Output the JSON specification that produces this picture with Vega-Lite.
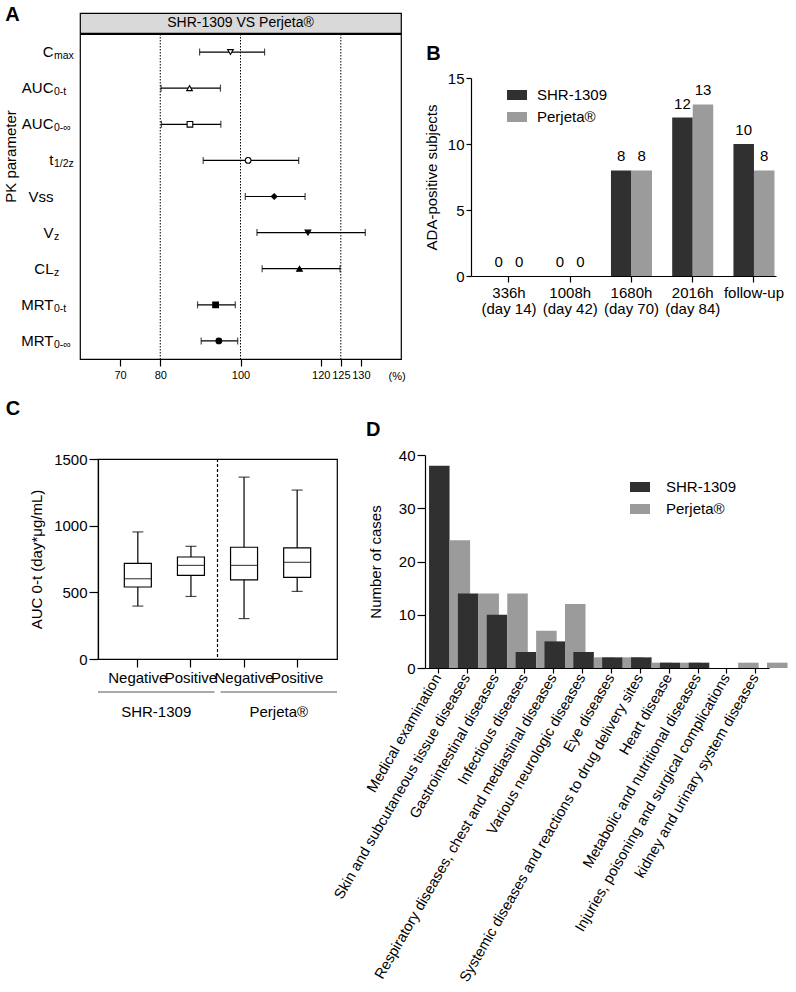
{
  "$schema": "https://vega.github.io/schema/vega-lite/v6.json",
  "padding": {"left": 0, "top": 5, "right": 0, "bottom": 0},
  "config": {
    "font": "Liberation Sans",
    "view": {"stroke": null},
    "axis": {"grid": false, "domainColor": "#000", "tickColor": "#000", "labelColor": "#000", "titleColor": "#000", "titleFontWeight": "normal", "labelFontSize": 15, "titleFontSize": 15, "domainWidth": 1.2, "tickWidth": 1.2},
    "title": {"fontSize": 20, "fontWeight": "bold", "anchor": "start", "frame": "bounds", "color": "#000"},
    "legend": {"labelFontSize": 15, "labelColor": "#000", "padding": 0}
  },
  "datasets": {
    "header": [{"label": "SHR-1309 VS Perjeta®"}],
    "pk": [
      {"param": "C|max", "sub": "max", "lo": 89.8, "est": 97.5, "hi": 106},
      {"param": "AUC|0-t", "sub": "0-t", "lo": 80.2, "est": 87.3, "hi": 95},
      {"param": "AUC|0-∞", "sub": "0-∞", "lo": 80.3, "est": 87.4, "hi": 95.1},
      {"param": "t|1/2z", "sub": "1/2z", "lo": 90.7, "est": 101.9, "hi": 114.5},
      {"param": "Vss|", "sub": "", "lo": 101.2, "est": 108.4, "hi": 116.1},
      {"param": "V|z", "sub": "z", "lo": 104.1, "est": 116.8, "hi": 131.1},
      {"param": "CL|z", "sub": "z", "lo": 105.4, "est": 114.7, "hi": 124.8},
      {"param": "MRT|0-t", "sub": "0-t", "lo": 89.3, "est": 93.8, "hi": 98.7},
      {"param": "MRT|0-∞", "sub": "0-∞", "lo": 90.2, "est": 94.6, "hi": 99.3}
    ],
    "refs": [{"ref": 80}, {"ref": 100}, {"ref": 125}],
    "ada": [
      {"time": "336h|(day 14)", "group": "SHR-1309", "n": 0},
      {"time": "336h|(day 14)", "group": "Perjeta®", "n": 0},
      {"time": "1008h|(day 42)", "group": "SHR-1309", "n": 0},
      {"time": "1008h|(day 42)", "group": "Perjeta®", "n": 0},
      {"time": "1680h|(day 70)", "group": "SHR-1309", "n": 8},
      {"time": "1680h|(day 70)", "group": "Perjeta®", "n": 8},
      {"time": "2016h|(day 84)", "group": "SHR-1309", "n": 12},
      {"time": "2016h|(day 84)", "group": "Perjeta®", "n": 13},
      {"time": "follow-up", "group": "SHR-1309", "n": 10},
      {"time": "follow-up", "group": "Perjeta®", "n": 8}
    ],
    "auc": [
      {"cat": "SHR-1309 Negative", "min": 397, "q1": 540, "median": 602, "q3": 717, "max": 953},
      {"cat": "SHR-1309 Positive", "min": 469, "q1": 627, "median": 702, "q3": 765, "max": 845},
      {"cat": "Perjeta® Negative", "min": 303, "q1": 594, "median": 702, "q3": 838, "max": 1364},
      {"cat": "Perjeta® Positive", "min": 507, "q1": 612, "median": 725, "q3": 833, "max": 1267}
    ],
    "groups": [{"group": "SHR-1309"}, {"group": "Perjeta®"}],
    "split": [{"cat": "Perjeta® Negative"}],
    "ae": [
      {"category": "Medical examination", "group": "SHR-1309", "n": 38},
      {"category": "Medical examination", "group": "Perjeta®", "n": 24},
      {"category": "Skin and subcutaneous tissue diseases", "group": "SHR-1309", "n": 14},
      {"category": "Skin and subcutaneous tissue diseases", "group": "Perjeta®", "n": 14},
      {"category": "Gastrointestinal diseases", "group": "SHR-1309", "n": 10},
      {"category": "Gastrointestinal diseases", "group": "Perjeta®", "n": 14},
      {"category": "Infectious diseases", "group": "SHR-1309", "n": 3},
      {"category": "Infectious diseases", "group": "Perjeta®", "n": 7},
      {"category": "Respiratory diseases, chest and mediastinal diseases", "group": "SHR-1309", "n": 5},
      {"category": "Respiratory diseases, chest and mediastinal diseases", "group": "Perjeta®", "n": 12},
      {"category": "Various neurologic diseases", "group": "SHR-1309", "n": 3},
      {"category": "Various neurologic diseases", "group": "Perjeta®", "n": 2},
      {"category": "Eye diseases", "group": "SHR-1309", "n": 2},
      {"category": "Eye diseases", "group": "Perjeta®", "n": 2},
      {"category": "Systemic diseases and reactions to drug delivery sites", "group": "SHR-1309", "n": 2},
      {"category": "Systemic diseases and reactions to drug delivery sites", "group": "Perjeta®", "n": 1},
      {"category": "Heart disease", "group": "SHR-1309", "n": 1},
      {"category": "Heart disease", "group": "Perjeta®", "n": 1},
      {"category": "Metabolic and nutritional diseases", "group": "SHR-1309", "n": 1},
      {"category": "Metabolic and nutritional diseases", "group": "Perjeta®", "n": 0},
      {"category": "Injuries, poisoning and surgical complications", "group": "SHR-1309", "n": 0},
      {"category": "Injuries, poisoning and surgical complications", "group": "Perjeta®", "n": 1},
      {"category": "kidney and urinary system diseases", "group": "SHR-1309", "n": 0},
      {"category": "kidney and urinary system diseases", "group": "Perjeta®", "n": 1}
    ]
  },
  "spacing": 11,
  "resolve": {"scale": {"color": "independent"}, "legend": {"color": "independent"}},
  "vconcat": [
    {
      "spacing": 18,
      "resolve": {"scale": {"color": "independent"}, "legend": {"color": "independent"}},
      "hconcat": [
        {
          "spacing": 2,
          "hconcat": [
            {"width": 1, "height": 1, "data": {"values": []}, "mark": "point", "encoding": {}},
            {
              "title": {"text": "A", "offset": -13, "dx": 2},
              "spacing": -2,
              "vconcat": [
                {
                  "width": 321,
                  "height": 20,
                  "view": {"fill": "#d9d9d9", "stroke": "#000", "strokeWidth": 1.2},
                  "data": {"name": "header"},
                  "mark": {"type": "text", "fontSize": 14, "color": "#000"},
                  "encoding": {"text": {"field": "label"}}
                },
                {
                  "width": 321,
                  "height": 325,
                  "view": {"stroke": "#000", "strokeWidth": 1.2},
                  "layer": [
                    {
                      "data": {"name": "refs"},
                      "mark": {"type": "rule", "color": "#000", "strokeWidth": 1, "strokeDash": [1.5, 1.5]},
                      "encoding": {
                        "x": {"field": "ref", "type": "quantitative", "scale": {"domain": [60, 140]},
                          "axis": {"values": [70, 80, 100, 120, 125, 130], "title": "(%)", "titleX": 308, "titleY": 17, "titleAlign": "left", "titleBaseline": "middle", "titleFontSize": 11, "labelFontSize": 11, "tickSize": 7, "labelPadding": 3, "labelOverlap": false, "labelFlush": false}}
                      }
                    },
                    {
                      "data": {"name": "pk"},
                      "mark": {"type": "rule", "color": "#000", "strokeWidth": 1.2},
                      "encoding": {
                        "y": {"field": "param", "type": "nominal", "sort": null, "scale": {"paddingInner": 0, "paddingOuter": 0},
                          "axis": {"title": "PK parameter", "titleY": 122, "titlePadding": 2, "domain": false, "ticks": false, "tickSize": 0, "labelPadding": 27, "labelFontSize": 15, "labelExpr": "split(datum.label, '|')[0]"}},
                        "x": {"field": "lo", "type": "quantitative"},
                        "x2": {"field": "hi"}
                      }
                    },
                    {
                      "data": {"name": "pk"},
                      "mark": {"type": "tick", "color": "#000", "thickness": 1.2, "size": 7},
                      "encoding": {"y": {"field": "param", "type": "nominal", "sort": null}, "x": {"field": "lo", "type": "quantitative"}}
                    },
                    {
                      "data": {"name": "pk"},
                      "mark": {"type": "tick", "color": "#000", "thickness": 1.2, "size": 7},
                      "encoding": {"y": {"field": "param", "type": "nominal", "sort": null}, "x": {"field": "hi", "type": "quantitative"}}
                    },
                    {
                      "data": {"name": "pk"},
                      "mark": {"type": "point", "stroke": "#000", "strokeWidth": 1.1, "size": 32, "opacity": 1},
                      "encoding": {
                        "y": {"field": "param", "type": "nominal", "sort": null},
                        "x": {"field": "est", "type": "quantitative"},
                        "shape": {"field": "param", "type": "nominal", "legend": null,
                          "scale": {"domain": ["C|max", "AUC|0-t", "AUC|0-∞", "t|1/2z", "Vss|", "V|z", "CL|z", "MRT|0-t", "MRT|0-∞"],
                            "range": ["triangle-down", "triangle-up", "square", "circle", "diamond", "triangle-down", "triangle-up", "square", "circle"]}},
                        "fill": {"field": "param", "type": "nominal", "legend": null,
                          "scale": {"domain": ["C|max", "AUC|0-t", "AUC|0-∞", "t|1/2z", "Vss|", "V|z", "CL|z", "MRT|0-t", "MRT|0-∞"],
                            "range": ["#fff", "#fff", "#fff", "#fff", "#000", "#000", "#000", "#000", "#000"]}}
                      }
                    },
                    {
                      "data": {"name": "pk"},
                      "mark": {"type": "text", "align": "left", "baseline": "middle", "dx": -26, "dy": 4, "fontSize": 10.5, "color": "#000"},
                      "encoding": {
                        "y": {"field": "param", "type": "nominal", "sort": null},
                        "x": {"datum": 60, "type": "quantitative"},
                        "text": {"field": "sub"}
                      }
                    }
                  ]
                }
              ]
            }
          ]
        },
        {
          "spacing": 30,
          "resolve": {"scale": {"color": "independent"}, "legend": {"color": "independent"}},
          "vconcat": [
            {"width": 1, "height": 1, "data": {"values": []}, "mark": "point", "encoding": {}},
            {
              "width": 305,
              "height": 198,
              "title": {"text": "B", "offset": 7, "dx": 2},
              "data": {"name": "ada"},
              "encoding": {
                "x": {"field": "time", "type": "nominal", "sort": null, "scale": {"paddingInner": 0.33, "paddingOuter": 0.155, "align": 0.92},
                  "axis": {"title": null, "labelAngle": 0, "labelExpr": "split(datum.label, '|')", "labelLineHeight": 16, "tickSize": 6, "labelPadding": 3}},
                "xOffset": {"field": "group", "scale": {"domain": ["SHR-1309", "Perjeta®"]}},
                "y": {"field": "n", "type": "quantitative", "scale": {"domain": [0, 15]},
                  "axis": {"values": [0, 5, 10, 15], "title": "ADA-positive subjects", "tickSize": 5, "titlePadding": 8}}
              },
              "layer": [
                {
                  "mark": {"type": "bar"},
                  "encoding": {
                    "color": {"field": "group", "type": "nominal",
                      "scale": {"domain": ["SHR-1309", "Perjeta®"], "range": ["#303030", "#9b9b9b"]},
                      "legend": {"title": null, "orient": "none", "legendX": 36, "legendY": 7, "symbolType": "M-1,-0.5H1V0.5H-1Z", "symbolSize": 400, "symbolStrokeWidth": 0, "labelOffset": 10, "rowPadding": 4}}
                  }
                },
                {
                  "mark": {"type": "text", "baseline": "bottom", "dy": -6, "fontSize": 15, "color": "#000"},
                  "encoding": {"text": {"field": "n", "type": "quantitative"}}
                }
              ]
            }
          ]
        }
      ]
    },
    {
      "spacing": -7,
      "resolve": {"scale": {"color": "independent"}, "legend": {"color": "independent"}},
      "hconcat": [
        {
          "spacing": 4,
          "hconcat": [
            {"width": 1, "height": 1, "data": {"values": []}, "mark": "point", "encoding": {}},
            {
              "spacing": 4,
              "vconcat": [
                {"width": 1, "height": 1, "data": {"values": []}, "mark": "point", "encoding": {}},
                {
                  "width": 239,
                  "height": 200,
                  "title": {"text": "C", "offset": 33, "dx": -24},
                  "view": {"stroke": "#000", "strokeWidth": 1.2},
                  "resolve": {"scale": {"x": "independent"}},
                  "layer": [
                    {
                      "data": {"name": "auc"},
                      "layer": [
                        {
                          "mark": {"type": "rule", "color": "#000", "strokeWidth": 1.2},
                          "encoding": {
                            "x": {"field": "cat", "type": "nominal", "sort": null, "scale": {"paddingInner": 0, "paddingOuter": 0.25},
                              "axis": {"title": null, "labelAngle": 0, "labelExpr": "split(datum.label, ' ')[1]", "tickSize": 8, "labelPadding": 3}},
                            "y": {"field": "min", "type": "quantitative", "scale": {"domain": [0, 1500], "nice": false, "zero": false},
                              "axis": {"values": [0, 500, 1000, 1500], "format": "d", "title": "AUC 0-t (day*μg/mL)", "tickSize": 9, "titlePadding": 9}},
                            "y2": {"field": "max"}
                          }
                        },
                        {
                          "mark": {"type": "bar", "fill": "#fff", "stroke": "#000", "strokeWidth": 1.2, "width": 27},
                          "encoding": {
                            "x": {"field": "cat", "type": "nominal", "sort": null},
                            "y": {"field": "q1", "type": "quantitative", "scale": {"domain": [0, 1500], "nice": false, "zero": false}},
                            "y2": {"field": "q3"}
                          }
                        },
                        {
                          "mark": {"type": "tick", "color": "#000", "thickness": 1.2, "size": 27},
                          "encoding": {"x": {"field": "cat", "type": "nominal", "sort": null}, "y": {"field": "median", "type": "quantitative", "scale": {"domain": [0, 1500], "nice": false, "zero": false}}}
                        },
                        {
                          "mark": {"type": "tick", "color": "#000", "thickness": 1.2, "size": 11},
                          "encoding": {"x": {"field": "cat", "type": "nominal", "sort": null}, "y": {"field": "min", "type": "quantitative", "scale": {"domain": [0, 1500], "nice": false, "zero": false}}}
                        },
                        {
                          "mark": {"type": "tick", "color": "#000", "thickness": 1.2, "size": 11},
                          "encoding": {"x": {"field": "cat", "type": "nominal", "sort": null}, "y": {"field": "max", "type": "quantitative", "scale": {"domain": [0, 1500], "nice": false, "zero": false}}}
                        },
                        {
                          "data": {"name": "split"},
                          "mark": {"type": "rule", "color": "#000", "strokeWidth": 1.2, "strokeDash": [3, 2]},
                          "encoding": {"x": {"field": "cat", "type": "nominal", "sort": null, "bandPosition": 0}}
                        }
                      ]
                    },
                    {
                      "data": {"name": "groups"},
                      "layer": [
                        {
                          "mark": {"type": "bar", "color": "#555"},
                          "encoding": {
                            "x": {"field": "group", "type": "nominal", "sort": null, "scale": {"paddingInner": 0.05, "paddingOuter": 0}, "axis": null},
                            "y": {"datum": -244, "type": "quantitative", "scale": {"domain": [0, 1500], "nice": false, "zero": false}},
                            "y2": {"datum": -252}
                          }
                        },
                        {
                          "mark": {"type": "text", "fontSize": 15, "color": "#000", "baseline": "middle"},
                          "encoding": {
                            "x": {"field": "group", "type": "nominal", "sort": null, "axis": null},
                            "y": {"datum": -399, "type": "quantitative", "scale": {"domain": [0, 1500], "nice": false, "zero": false}},
                            "text": {"field": "group"}
                          }
                        }
                      ]
                    }
                  ]
                }
              ]
            }
          ]
        },
        {
          "spacing": 26,
          "resolve": {"scale": {"color": "independent"}, "legend": {"color": "independent"}},
          "vconcat": [
            {"width": 1, "height": 1, "data": {"values": []}, "mark": "point", "encoding": {}},
            {
              "width": 344,
              "height": 213,
              "title": {"text": "D", "offset": 8, "dx": 35},
              "data": {"name": "ae"},
              "mark": {"type": "bar"},
              "encoding": {
                "x": {"field": "category", "type": "nominal", "sort": null, "scale": {"paddingInner": 0.36, "paddingOuter": 0.14},
                  "axis": {"title": null, "labelAngle": -60, "labelAlign": "right", "labelBaseline": "middle", "labelLimit": 500, "labelFontSize": 14.7, "tickSize": 5, "labelPadding": 2}},
                "xOffset": {"field": "group", "scale": {"domain": ["SHR-1309", "Perjeta®"]}},
                "y": {"field": "n", "type": "quantitative", "scale": {"domain": [0, 40]},
                  "axis": {"values": [0, 10, 20, 30, 40], "title": "Number of cases", "tickSize": 8, "titlePadding": 15}},
                "color": {"field": "group", "type": "nominal",
                  "scale": {"domain": ["SHR-1309", "Perjeta®"], "range": ["#303030", "#9b9b9b"]},
                  "legend": {"title": null, "orient": "none", "legendX": 205, "legendY": 22, "symbolType": "M-1,-0.5H1V0.5H-1Z", "symbolSize": 400, "symbolStrokeWidth": 0, "labelOffset": 16, "rowPadding": 4}}
              }
            }
          ]
        }
      ]
    }
  ]
}
